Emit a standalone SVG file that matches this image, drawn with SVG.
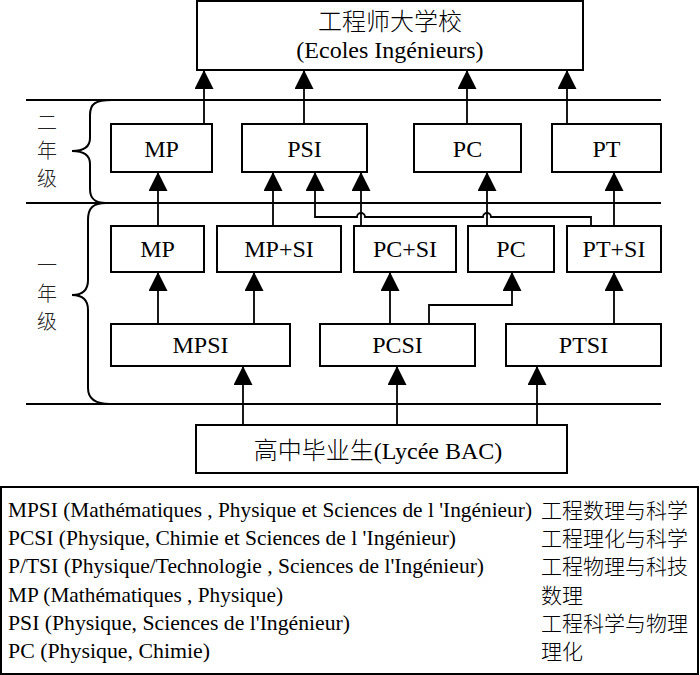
<svg xmlns="http://www.w3.org/2000/svg" width="700" height="675" viewBox="0 0 700 675">
<style>
.box{fill:#fff;stroke:#000;stroke-width:2}
.ln{fill:none;stroke:#000;stroke-width:1.8}
.rule{fill:none;stroke:#000;stroke-width:2}
.t{font-family:"Liberation Serif","Times New Roman",serif;font-size:24px;fill:#000;text-anchor:middle}
.cj{font-family:"Noto Sans CJK SC",sans-serif;font-weight:300}
.yl{font-family:"Noto Sans CJK SC",sans-serif;font-weight:300;font-size:20px;fill:#222;text-anchor:middle}
.lg{font-family:"Liberation Serif","Times New Roman",serif;font-size:21px;fill:#000}
.lc{font-family:"Noto Sans CJK SC",sans-serif;font-weight:300;font-size:21px;fill:#000}
</style>
<defs>
<marker id="ah" markerUnits="userSpaceOnUse" markerWidth="19" markerHeight="19" viewBox="0 0 19 19" refX="19" refY="9.5" orient="auto">
<path d="M0,0 L19,9.5 L0,19 z" fill="#000"/>
</marker>
</defs>
<rect width="700" height="675" fill="#fff"/>
<g id="rules">
<line class="rule" x1="26" y1="100" x2="661" y2="100"/>
<line class="rule" x1="26" y1="203" x2="661" y2="203"/>
<line class="rule" x1="26" y1="404" x2="661" y2="404"/>
<path class="rule" d="M112,100 C95,100 90,104 90,115 L90,138 C90,146 84,151 72,151 C84,151 90,156 90,164 L90,189 C90,199 95,203 106,203"/>
<path class="rule" d="M106,203 C93,203 88,208 88,220 L88,280 C88,290 82,295 72,295 C82,295 88,300 88,310 L88,388 C88,398 95,404 110,404"/>
<text class="yl" x="47" y="130">二</text>
<text class="yl" x="47" y="158">年</text>
<text class="yl" x="47" y="186">级</text>
<text class="yl" x="47" y="273">一</text>
<text class="yl" x="47" y="301">年</text>
<text class="yl" x="47" y="329">级</text>
</g>
<g id="connectors">
<line class="ln" x1="204" y1="124" x2="204" y2="70" marker-end="url(#ah)"/>
<line class="ln" x1="304" y1="124" x2="304" y2="70" marker-end="url(#ah)"/>
<line class="ln" x1="467" y1="124" x2="467" y2="70" marker-end="url(#ah)"/>
<line class="ln" x1="567" y1="124" x2="567" y2="70" marker-end="url(#ah)"/>
<line class="ln" x1="158" y1="226" x2="158" y2="172" marker-end="url(#ah)"/>
<line class="ln" x1="273" y1="226" x2="273" y2="172" marker-end="url(#ah)"/>
<line class="ln" x1="361" y1="226" x2="361" y2="172" marker-end="url(#ah)"/>
<line class="ln" x1="487" y1="226" x2="487" y2="172" marker-end="url(#ah)"/>
<line class="ln" x1="614" y1="226" x2="614" y2="172" marker-end="url(#ah)"/>
<path class="ln" d="M591,226 L591,217 L491,217 A4,4 0 0 0 483,217 L365,217 A4,4 0 0 0 357,217 L315,217 L315,172" marker-end="url(#ah)"/>
<line class="ln" x1="158" y1="324" x2="158" y2="272" marker-end="url(#ah)"/>
<line class="ln" x1="254" y1="324" x2="254" y2="272" marker-end="url(#ah)"/>
<line class="ln" x1="390" y1="324" x2="390" y2="272" marker-end="url(#ah)"/>
<path class="ln" d="M429,324 L429,305 L512,305 L512,272" marker-end="url(#ah)"/>
<line class="ln" x1="614" y1="324" x2="614" y2="272" marker-end="url(#ah)"/>
<line class="ln" x1="243" y1="425" x2="243" y2="366" marker-end="url(#ah)"/>
<line class="ln" x1="397" y1="425" x2="397" y2="366" marker-end="url(#ah)"/>
<line class="ln" x1="537" y1="425" x2="537" y2="366" marker-end="url(#ah)"/>
</g>
<g id="ecoles">
<rect class="box" x="197" y="1" width="386" height="69"/>
<text class="t" x="390" y="30"><tspan class="cj">工程师大学校</tspan></text>
<text class="t" x="390" y="58">(Ecoles Ingénieurs)</text>
</g>
<g id="mp2"><rect class="box" x="111" y="124" width="101" height="48"/><text class="t" x="161.5" y="157">MP</text></g>
<g id="psi2"><rect class="box" x="242" y="124" width="125" height="48"/><text class="t" x="304.5" y="157">PSI</text></g>
<g id="pc2"><rect class="box" x="414" y="124" width="107" height="48"/><text class="t" x="467.5" y="157">PC</text></g>
<g id="pt2"><rect class="box" x="552" y="124" width="109" height="48"/><text class="t" x="606.5" y="157">PT</text></g>
<g id="mp1"><rect class="box" x="111" y="226" width="93" height="46"/><text class="t" x="157.5" y="257">MP</text></g>
<g id="mpsi1"><rect class="box" x="217" y="226" width="124" height="46"/><text class="t" x="279" y="257">MP+SI</text></g>
<g id="pcsi1"><rect class="box" x="354" y="226" width="102" height="46"/><text class="t" x="405" y="257">PC+SI</text></g>
<g id="pc1"><rect class="box" x="468" y="226" width="86" height="46"/><text class="t" x="511" y="257">PC</text></g>
<g id="ptsi1"><rect class="box" x="567" y="226" width="94" height="46"/><text class="t" x="614" y="257">PT+SI</text></g>
<g id="mpsi"><rect class="box" x="111" y="324" width="179" height="42"/><text class="t" x="200.5" y="353">MPSI</text></g>
<g id="pcsi"><rect class="box" x="320" y="324" width="155" height="42"/><text class="t" x="397.5" y="353">PCSI</text></g>
<g id="ptsi"><rect class="box" x="506" y="324" width="155" height="42"/><text class="t" x="583.5" y="353">PTSI</text></g>
<g id="bac"><rect class="box" x="196" y="425" width="371" height="48"/><text class="t" x="378" y="459"><tspan class="cj">高中毕业生</tspan>(Lycée BAC)</text></g>
<g id="legend">
<rect class="box" x="1" y="487" width="697" height="187"/>
<text class="lg" x="8" y="517" textLength="524" lengthAdjust="spacingAndGlyphs">MPSI (Mathématiques , Physique et Sciences de l 'Ingénieur)</text>
<text class="lg" x="8" y="545" textLength="448" lengthAdjust="spacingAndGlyphs">PCSI (Physique, Chimie et Sciences de l 'Ingénieur)</text>
<text class="lg" x="8" y="573" textLength="476" lengthAdjust="spacingAndGlyphs">P/TSI (Physique/Technologie , Sciences de l'Ingénieur)</text>
<text class="lg" x="8" y="602" textLength="275" lengthAdjust="spacingAndGlyphs">MP (Mathématiques , Physique)</text>
<text class="lg" x="8" y="630" textLength="342" lengthAdjust="spacingAndGlyphs">PSI (Physique, Sciences de l'Ingénieur)</text>
<text class="lg" x="8" y="658" textLength="202" lengthAdjust="spacingAndGlyphs">PC (Physique, Chimie)</text>
<text class="lc" x="541" y="518">工程数理与科学</text>
<text class="lc" x="541" y="546">工程理化与科学</text>
<text class="lc" x="541" y="574">工程物理与科技</text>
<text class="lc" x="541" y="603">数理</text>
<text class="lc" x="541" y="631">工程科学与物理</text>
<text class="lc" x="541" y="659">理化</text>
</g>
</svg>
